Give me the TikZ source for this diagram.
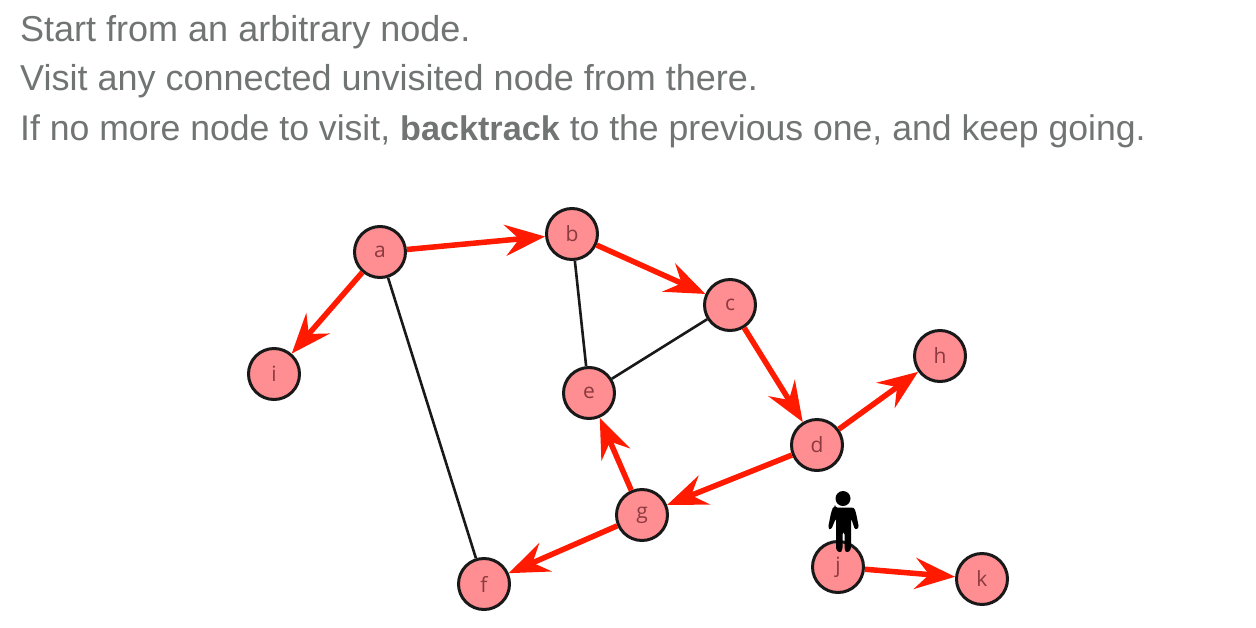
\documentclass[tikz,border=0pt]{standalone}
\usepackage{fontspec}
\setmainfont{Liberation Sans}
\newfontfamily\labelfont{Open Sans}
\usetikzlibrary{arrows.meta}
\definecolor{txt}{HTML}{707473}
\definecolor{fillred}{HTML}{FF8E92}
\definecolor{edgered}{HTML}{FF1A00}
\definecolor{lab}{HTML}{8C3A40}
\tikzset{
  vert/.style={circle,draw=black!90,line width=3pt,fill=fillred,minimum size=51pt,inner sep=0pt,text=lab,font=\labelfont\fontsize{21}{21}\selectfont},
  plain/.style={line width=2.6pt,draw=black!90},
  visited/.style={line width=5.5pt,draw=edgered,-{Stealth[length=40pt,width=31pt,inset=14pt]}},
  caption/.style={anchor=base west,inner sep=0pt,text=txt,font=\fontsize{36}{36}\selectfont},
  captionb/.style={anchor=base west,inner sep=0pt,text=txt,font=\fontsize{35.6}{36}\selectfont},
}
\begin{document}
\begin{tikzpicture}[x=1pt,y=-1pt]
\useasboundingbox (0,0) rectangle (1256,627);
\fill[white] (0,0) rectangle (1256,627);
\node[caption] (l1) at (20,41.5) {Start from an arbitrary node.};
\node[caption] (l2) at (20,90.5) {Visit any connected unvisited node from there.};
\node[captionb] (l3) at (20,140) {If no more node to visit, {\fontsize{34.2}{36}\selectfont\textbf{backtrack}} to the previous one, and keep going.};
\node[vert] (a) at (380,252) {a};
\node[vert] (b) at (572,234) {b};
\node[vert] (c) at (730,305) {c};
\node[vert] (d) at (817,445) {d};
\node[vert] (e) at (589,393) {e};
\node[vert] (f) at (484,584) {f};
\node[vert] (g) at (642,515) {g};
\node[vert] (h) at (940,356) {h};
\node[vert] (i) at (274,374) {i};
\node[vert] (j) at (838,567) {j};
\node[vert] (k) at (982,579) {k};
\draw[plain] (a) -- (f);
\draw[plain] (b) -- (e);
\draw[plain] (c) -- (e);
\draw[visited] (a) -- (b);
\draw[visited] (a) -- (i);
\draw[visited] (b) -- (c);
\draw[visited] (c) -- (d);
\draw[visited] (d) -- (h);
\draw[visited] (d) -- (g);
\draw[visited] (g) -- (e);
\draw[visited] (g) -- (f);
\draw[visited] (j) -- (k);
% person standing on j
\fill[black] (843,498.5) circle (7.5);
\fill[black,rounded corners=2.5pt] (835,507.5) -- (851,507.5) .. controls (854,508) and (855,510) .. (856,513) -- (859,528) -- (855,530) -- (851,518) -- (851,550) -- (847,553) -- (844.5,550) -- (844.5,532) -- (842.5,532) -- (842.5,550) -- (840,553) -- (836,550) -- (836,518) -- (831,530) -- (828,528) -- (831,513) .. controls (832,510) and (833,508) .. (835,507.5) -- cycle;
\end{tikzpicture}
\end{document}
